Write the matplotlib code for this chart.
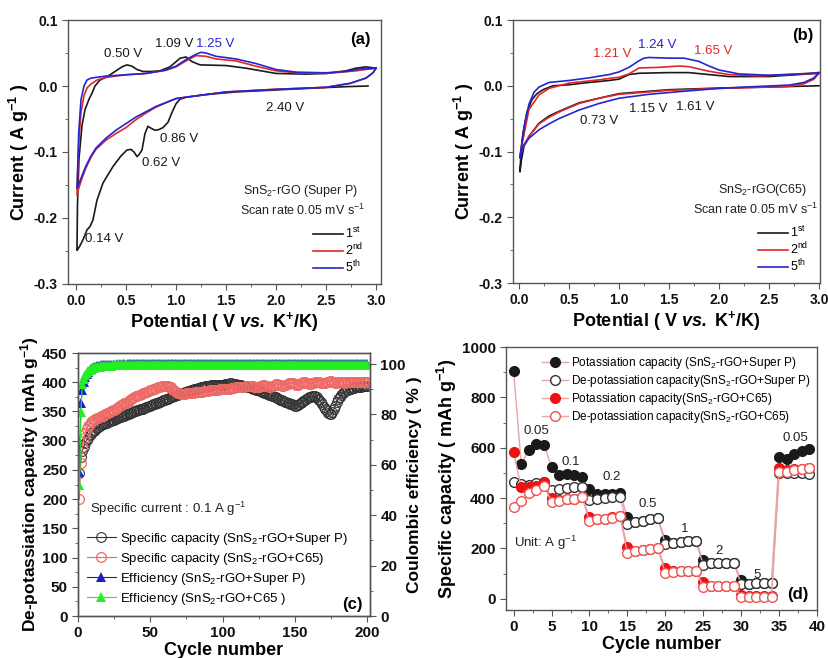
import numpy as np
import matplotlib
matplotlib.use('Agg')
import matplotlib.pyplot as plt
from matplotlib.ticker import MultipleLocator

plt.rcParams['font.family'] = ['Liberation Sans', 'DejaVu Sans']
plt.rcParams['font.weight'] = 'bold'
plt.rcParams['axes.labelweight'] = 'bold'
plt.rcParams['mathtext.fontset'] = 'custom'
plt.rcParams['mathtext.rm'] = 'Liberation Sans:normal'
plt.rcParams['mathtext.it'] = 'Liberation Sans:italic:normal'
plt.rcParams['mathtext.bf'] = 'Liberation Sans:bold'
plt.rcParams['mathtext.bfit'] = 'Liberation Sans:italic:bold'
plt.rcParams['axes.unicode_minus'] = False

# ---------------- (a) CV SnS2-rGO (Super P) ----------------
a1_cath_v = [2.92, 2.7, 2.4, 2.0, 1.6, 1.3, 1.1, 1.04, 1.0, 0.96, 0.92, 0.87, 0.83, 0.79, 0.75, 0.72, 0.69, 0.66,
             0.63, 0.61, 0.58, 0.55, 0.51, 0.45, 0.37, 0.27, 0.21, 0.17, 0.14, 0.11, 0.07, 0.04, 0.02, 0.01]
a1_cath_i = [0.000, -0.001, -0.003, -0.006, -0.009, -0.013, -0.017, -0.020, -0.027, -0.040, -0.055, -0.063, -0.066,
             -0.067, -0.064, -0.061, -0.072, -0.097, -0.104, -0.107, -0.100, -0.096, -0.097, -0.106, -0.122, -0.147,
             -0.173, -0.203, -0.213, -0.218, -0.233, -0.242, -0.247, -0.249]
a1_an_v = [0.01, 0.015, 0.03, 0.06, 0.09, 0.13, 0.16, 0.19, 0.24, 0.31, 0.41, 0.46, 0.51, 0.56, 0.61, 0.67, 0.75, 0.84,
           0.94, 1.04, 1.10, 1.16, 1.24, 1.5, 1.7, 2.0, 2.3, 2.5, 2.7, 2.8, 2.9, 3.0]
a1_an_i = [-0.249, -0.180, -0.110, -0.060, -0.036, -0.020, -0.011, 0.000, 0.009, 0.014, 0.024, 0.029, 0.032, 0.030,
           0.025, 0.022, 0.022, 0.023, 0.029, 0.042, 0.044, 0.037, 0.032, 0.031, 0.027, 0.019, 0.018, 0.019, 0.023,
           0.027, 0.029, 0.027]

a2_cath_v = [3.0, 2.97, 2.9, 2.74, 2.5, 2.0, 1.5, 1.0, 0.8, 0.7, 0.6, 0.5, 0.4, 0.3, 0.2, 0.15, 0.1, 0.06, 0.03, 0.01]
a2_cath_i = [0.027, 0.020, 0.012, 0.004, -0.002, -0.005, -0.009, -0.019, -0.032, -0.041, -0.051, -0.063, -0.072,
             -0.082, -0.096, -0.108, -0.124, -0.140, -0.154, -0.165]
a2_an_v = [0.01, 0.02, 0.03, 0.05, 0.08, 0.11, 0.15, 0.21, 0.3, 0.5, 0.7, 0.9, 1.0, 1.1, 1.2, 1.3, 1.4, 1.6, 1.8, 2.0,
           2.2, 2.5, 2.8, 3.0]
a2_an_i = [-0.165, -0.120, -0.080, -0.040, -0.015, -0.003, 0.003, 0.009, 0.013, 0.017, 0.019, 0.024, 0.029, 0.038,
           0.046, 0.045, 0.041, 0.038, 0.030, 0.023, 0.020, 0.019, 0.023, 0.027]

a5_cath_v = [3.0, 2.97, 2.9, 2.74, 2.5, 2.0, 1.5, 1.0, 0.8, 0.7, 0.6, 0.5, 0.4, 0.3, 0.2, 0.15, 0.1, 0.06, 0.03, 0.01]
a5_cath_i = [0.027, 0.020, 0.012, 0.004, -0.002, -0.005, -0.009, -0.019, -0.031, -0.039, -0.047, -0.057, -0.067,
             -0.079, -0.094, -0.106, -0.121, -0.136, -0.148, -0.155]
a5_an_v = [0.01, 0.02, 0.027, 0.05, 0.08, 0.11, 0.15, 0.2, 0.3, 0.5, 0.7, 0.9, 1.0, 1.1, 1.2, 1.25, 1.3, 1.4, 1.6, 1.8,
           2.0, 2.2, 2.5, 2.7, 2.85, 3.0]
a5_an_i = [-0.155, -0.110, -0.072, -0.021, 0.000, 0.009, 0.012, 0.013, 0.015, 0.017, 0.019, 0.024, 0.030, 0.040, 0.048,
           0.051, 0.050, 0.045, 0.041, 0.034, 0.025, 0.021, 0.020, 0.022, 0.026, 0.027]

# ---------------- (b) CV SnS2-rGO (C65) ----------------
b1_cath_v = [3.0, 2.5, 2.0, 1.5, 1.0, 0.8, 0.6, 0.4, 0.3, 0.2, 0.1, 0.05, 0.02, 0.01]
b1_cath_i = [0.000, -0.002, -0.0035, -0.006, -0.012, -0.019, -0.026, -0.039, -0.046, -0.057, -0.077, -0.092, -0.117,
             -0.131]
b1_an_v = [0.01, 0.02, 0.04, 0.08, 0.13, 0.18, 0.24, 0.34, 0.5, 0.7, 0.9, 1.0, 1.1, 1.2, 1.5, 1.7, 1.9, 2.1, 2.5, 2.8,
           3.0]
b1_an_i = [-0.131, -0.100, -0.072, -0.040, -0.021, -0.012, -0.006, 0.000, 0.0015, 0.005, 0.008, 0.010, 0.017, 0.019,
           0.020, 0.020, 0.017, 0.014, 0.014, 0.017, 0.019]

b2_cath_v = [3.0, 2.95, 2.85, 2.7, 2.0, 1.5, 1.0, 0.8, 0.6, 0.4, 0.3, 0.2, 0.1, 0.05, 0.01]
b2_cath_i = [0.019, 0.010, 0.003, -0.001, -0.004, -0.007, -0.013, -0.019, -0.027, -0.040, -0.048, -0.058, -0.077,
             -0.090, -0.105]
b2_an_v = [0.01, 0.04, 0.1, 0.2, 0.3, 0.5, 0.8, 1.0, 1.1, 1.2, 1.4, 1.6, 1.7, 1.9, 2.1, 2.4, 2.7, 3.0]
b2_an_i = [-0.105, -0.082, -0.036, -0.014, -0.004, 0.004, 0.009, 0.013, 0.018, 0.027, 0.028, 0.030, 0.029, 0.022,
           0.017, 0.015, 0.017, 0.019]

b5_cath_v = [3.0, 2.95, 2.85, 2.7, 2.4, 2.0, 1.6, 1.3, 1.0, 0.8, 0.6, 0.4, 0.3, 0.2, 0.1, 0.05, 0.02, 0.01]
b5_cath_i = [0.020, 0.012, 0.005, 0.001, -0.001, -0.004, -0.009, -0.013, -0.019, -0.027, -0.037, -0.050, -0.058,
             -0.067, -0.080, -0.090, -0.103, -0.110]
b5_an_v = [0.01, 0.03, 0.06, 0.1, 0.15, 0.2, 0.3, 0.5, 0.7, 0.9, 1.0, 1.1, 1.2, 1.25, 1.3, 1.5, 1.65, 1.8, 1.9, 2.0,
           2.2, 2.5, 2.8, 3.0]
b5_an_i = [-0.110, -0.085, -0.055, -0.028, -0.010, -0.002, 0.005, 0.008, 0.012, 0.017, 0.021, 0.028, 0.038, 0.042,
           0.043, 0.042, 0.042, 0.037, 0.030, 0.024, 0.018, 0.016, 0.018, 0.020]

# ---------------- (c) cycling at 0.1 A/g ----------------
cycles_c = np.arange(1, 201)
cap_superp = [245, 272, 283, 290, 296, 301, 305, 309, 312, 315, 317, 319, 321, 323, 325, 326, 328, 329, 330, 331,
              332, 333, 334, 335, 336, 337, 338, 339, 340, 341, 342, 343, 344, 345, 346, 347, 348, 349, 350, 351,
              352, 353, 354, 354, 355, 356, 357, 358, 359, 360, 361, 362, 363, 364, 365, 366, 367, 368, 369, 370,
              371, 372, 373, 374, 375, 376, 377, 378, 379, 380, 381, 382, 382, 383, 384, 385, 385, 386, 387, 388,
              389, 389, 390, 390, 391, 391, 392, 393, 393, 394, 394, 395, 395, 396, 396, 396, 395, 395, 396, 396,
              396, 397, 397, 397, 398, 398, 397, 397, 397, 396, 396, 395, 395, 394, 394, 393, 392, 392, 391, 390,
              389, 388, 387, 387, 386, 385, 384, 383, 382, 381, 380, 379, 378, 377, 376, 375, 374, 373, 371, 370,
              369, 368, 367, 366, 365, 364, 363, 362, 361, 360, 360, 361, 362, 364, 366, 368, 370, 372, 373, 374,
              375, 376, 377, 376, 374, 372, 370, 366, 362, 358, 354, 350, 347, 345, 346, 349, 354, 360, 366, 371,
              375, 378, 381, 383, 385, 386, 387, 388, 389, 390, 390, 391, 391, 392, 392, 392, 393, 393, 393, 393]
cap_c65 = [200, 262, 290, 305, 314, 320, 325, 329, 332, 334, 336, 337, 338, 339, 340, 342, 343, 344, 345, 347,
           348, 349, 350, 352, 353, 355, 356, 358, 359, 361, 362, 364, 365, 367, 368, 370, 371, 373, 374, 376,
           377, 378, 379, 380, 381, 382, 383, 384, 385, 386, 387, 388, 389, 390, 391, 392, 392, 393, 393, 393,
           393, 393, 392, 391, 389, 387, 385, 383, 382, 381, 380, 380, 380, 380, 381, 381, 382, 382, 382, 382,
           383, 383, 383, 384, 384, 384, 385, 385, 385, 385, 386, 386, 386, 386, 387, 387, 387, 388, 388, 388,
           388, 389, 389, 389, 389, 390, 390, 390, 391, 391, 391, 392, 392, 392, 392, 393, 393, 393, 394, 394,
           393, 392, 391, 391, 392, 393, 394, 395, 395, 394, 393, 392, 392, 393, 394, 396, 397, 397, 396, 395,
           394, 394, 395, 396, 397, 398, 399, 399, 398, 397, 396, 396, 397, 398, 399, 400, 400, 399, 398, 397,
           397, 398, 399, 400, 401, 401, 400, 399, 398, 398, 399, 400, 401, 402, 402, 401, 400, 399, 399, 400,
           401, 401, 400, 399, 399, 400, 401, 401, 400, 400, 400, 401, 401, 400, 400, 401, 401, 401, 400, 400]
eff_superp = [57, 84.5, 89.7, 93, 94.8, 96.0, 96.9, 97.6, 98.1, 98.5, 98.8, 99.0, 99.2, 99.3, 99.4, 99.5, 99.5, 99.6, 99.6, 99.7,
              99.7, 99.8, 99.7, 99.8, 99.8, 99.8, 99.9, 99.8, 99.9, 99.8, 99.9, 99.9, 99.8, 99.9, 99.9, 100.0, 99.9, 99.9, 100.0, 99.9,
              99.9, 100.0, 99.9, 99.9, 100.0, 100.0, 99.9, 100.0, 99.9, 100.0, 100.0, 99.9, 100.0, 100.0, 99.9, 100.0, 100.0, 100.1, 100.0, 99.9,
              100.0, 100.0, 100.1, 100.0, 99.9, 100.0, 100.1, 100.0, 100.0, 99.9, 100.0, 100.1, 100.0, 100.0, 100.1, 100.0, 99.9, 100.0, 100.0, 100.1,
              100.0, 100.0, 99.9, 100.0, 100.1, 100.0, 100.0, 100.1, 100.0, 99.9, 100.0, 100.0, 100.1, 100.0, 100.0, 99.9, 100.0, 100.1, 100.0, 100.0,
              100.1, 100.0, 100.0, 99.9, 100.0, 100.1, 100.0, 100.0, 100.1, 100.0, 100.0, 99.9, 100.0, 100.1, 100.0, 100.0, 100.1, 100.0, 99.9, 100.0,
              100.0, 100.1, 100.0, 100.0, 99.9, 100.0, 100.1, 100.0, 100.0, 100.1, 100.0, 100.0, 99.9, 100.0, 100.1, 100.2, 100.1, 100.0, 100.0, 100.1,
              100.0, 99.9, 100.0, 100.1, 100.2, 100.1, 100.0, 100.0, 100.1, 100.0, 100.0, 99.9, 100.0, 100.1, 100.2, 100.1, 100.0, 100.0, 100.1, 100.2,
              100.1, 100.0, 100.0, 100.1, 100.2, 100.1, 100.0, 99.9, 100.0, 100.1, 100.2, 100.2, 100.1, 100.0, 100.0, 100.1, 100.2, 100.1, 100.0, 100.0,
              100.1, 100.2, 100.1, 100.0, 100.0, 100.1, 100.2, 100.1, 100.0, 100.0, 100.1, 100.0, 100.0, 100.1, 100.2, 100.1, 100.0, 100.0, 100.1, 100.0]
eff_c65 = [52, 81, 92, 94, 95.5, 96.4, 97.1, 97.6, 98.0, 98.3, 98.5, 98.7, 98.8, 98.9, 99.0, 99.1, 99.2, 99.2, 99.3, 99.3,
           99.4, 99.4, 99.4, 99.5, 99.5, 99.5, 99.5, 99.6, 99.5, 99.6, 99.6, 99.5, 99.6, 99.6, 99.6, 99.7, 99.6, 99.6, 99.7, 99.6,
           99.7, 99.6, 99.7, 99.7, 99.6, 99.7, 99.8, 99.7, 99.7, 99.6, 99.7, 99.7, 99.8, 99.7, 99.6, 99.7, 99.7, 99.8, 99.7, 99.7,
           99.6, 99.7, 99.8, 99.7, 99.7, 99.6, 99.7, 99.8, 99.7, 99.7, 99.8, 99.7, 99.6, 99.7, 99.7, 99.8, 99.7, 99.7, 99.6, 99.7,
           99.8, 99.7, 99.7, 99.6, 99.7, 99.8, 99.7, 99.7, 99.8, 99.7, 99.6, 99.7, 99.7, 99.8, 99.7, 99.7, 99.6, 99.7, 99.8, 99.7,
           99.7, 99.8, 99.7, 99.6, 99.7, 99.7, 99.8, 99.7, 99.7, 99.6, 99.7, 99.8, 99.7, 99.7, 99.8, 99.7, 99.6, 99.7, 99.7, 99.8,
           99.7, 99.7, 99.6, 99.7, 99.8, 99.7, 99.7, 99.8, 99.7, 99.6, 99.7, 99.7, 99.8, 99.7, 99.7, 99.6, 99.7, 99.8, 99.7, 99.7,
           99.8, 99.7, 99.6, 99.7, 99.7, 99.8, 99.7, 99.7, 99.6, 99.7, 99.8, 99.7, 99.7, 99.8, 99.7, 99.6, 99.7, 99.7, 99.8, 99.7,
           99.7, 99.6, 99.7, 99.8, 99.7, 99.7, 99.8, 99.7, 99.6, 99.7, 99.7, 99.8, 99.7, 99.7, 99.6, 99.7, 99.8, 99.7, 99.7, 99.8,
           99.7, 99.6, 99.7, 99.7, 99.8, 99.7, 99.7, 99.6, 99.7, 99.8, 99.7, 99.7, 99.8, 99.7, 99.6, 99.7, 99.7, 99.8, 99.7, 99.7]

# ---------------- (d) rate capability ----------------
cycles_d = np.arange(0, 40)
pot_superp = [905, 535, 590, 615, 610, 525, 493, 495, 492, 485, 435, 415, 415, 418, 420, 325, 305, 310, 315, 320,
              235, 222, 225, 228, 230, 152, 140, 142, 142, 143, 75, 60, 62, 63, 63, 562, 555, 575, 585, 595]
depot_superp = [465, 455, 450, 460, 465, 432, 435, 438, 442, 445, 392, 398, 400, 403, 405, 295, 305, 310, 315, 320,
                218, 222, 225, 228, 230, 135, 140, 142, 142, 143, 58, 60, 62, 63, 63, 500, 500, 500, 498, 495]
pot_c65 = [582, 443, 445, 448, 462, 402, 392, 398, 398, 405, 325, 315, 318, 325, 330, 205, 190, 195, 198, 200,
           122, 110, 110, 110, 112, 65, 50, 50, 50, 50, 15, 10, 10, 10, 10, 518, 512, 515, 515, 520]
depot_c65 = [365, 390, 420, 432, 448, 385, 390, 395, 395, 405, 308, 315, 318, 322, 328, 182, 188, 193, 198, 200,
             102, 108, 110, 112, 112, 48, 50, 50, 50, 50, 8, 8, 8, 8, 8, 505, 505, 510, 515, 518]
rate_labels = ['0.05', '0.1', '0.2', '0.5', '1', '2', '5', '0.05']
rate_label_x = [3.0, 7.5, 12.9, 17.7, 22.6, 27.1, 32.1, 37.2]
rate_label_y = [665, 545, 482, 375, 275, 191, 96, 637]

black = '#1a1a1a'
red = '#e02828'
blue = '#2525d0'
spine_c = '#555555'

fig = plt.figure(figsize=(8.29, 6.58), dpi=100)
ax1 = fig.add_axes([0.0820, 0.5684, 0.3776, 0.4012])
ax2 = fig.add_axes([0.6188, 0.5699, 0.3703, 0.3997])
ax3 = fig.add_axes([0.0941, 0.0638, 0.3522, 0.3997])
ax4 = fig.add_axes([0.6104, 0.0729, 0.3752, 0.3997])

def style(ax, fs=10):
    for s in ax.spines.values():
        s.set_color(spine_c)
        s.set_linewidth(1.0)
    ax.tick_params(which='both', direction='out', colors=spine_c, labelcolor='#111111', labelsize=fs)
    ax.tick_params(which='major', length=4)
    ax.tick_params(which='minor', length=2)

def bold_ticks(ax):
    for t in ax.get_xticklabels() + ax.get_yticklabels():
        t.set_fontweight('bold')

# ---- panel a
ax1.plot(a1_cath_v + a1_an_v, a1_cath_i + a1_an_i, color=black, lw=1.2, label='1$^{\\rm st}$')
ax1.plot(a2_cath_v + a2_an_v, a2_cath_i + a2_an_i, color=red, lw=1.2, label='2$^{\\rm nd}$')
ax1.plot(a5_cath_v + a5_an_v, a5_cath_i + a5_an_i, color=blue, lw=1.2, label='5$^{\\rm th}$')
ax1.set_xlim(-0.08, 3.05)
ax1.set_ylim(-0.3, 0.1)
ax1.xaxis.set_major_locator(MultipleLocator(0.5))
ax1.xaxis.set_minor_locator(MultipleLocator(0.25))
ax1.yaxis.set_major_locator(MultipleLocator(0.1))
ax1.yaxis.set_minor_locator(MultipleLocator(0.05))
ax1.yaxis.set_major_formatter(matplotlib.ticker.FormatStrFormatter('%.1f'))
style(ax1)
ax1.set_xlabel(r'Potential ( V $\mathbfit{vs.}$ K$^{\mathbf{+}}$/K)', fontsize=13, fontweight='bold', labelpad=1)
ax1.set_ylabel(r'Current ( A g$^{\mathbf{-1}}$ )', fontsize=13, fontweight='bold', labelpad=2)
for t, x, y, c in [('0.50 V', 0.467, 0.048, black), ('1.09 V', 0.98, 0.063, black), ('1.25 V', 1.39, 0.063, blue),
                   ('2.40 V', 2.09, -0.034, black), ('0.86 V', 1.03, -0.080, black), ('0.62 V', 0.85, -0.117, black),
                   ('0.14 V', 0.28, -0.232, black)]:
    ax1.text(x, y, t, color=c, fontsize=9.5, fontweight='normal', ha='center', va='center')
ax1.text(2.84, 0.070, '(a)', fontsize=12, fontweight='bold', ha='center', va='center')
ax1.text(0.925, 0.352, 'SnS$_2$-rGO (Super P)', transform=ax1.transAxes, fontsize=9, fontweight='normal',
         ha='right', va='center', color='#222222')
ax1.text(0.95, 0.28, 'Scan rate 0.05 mV s$^{-1}$', transform=ax1.transAxes, fontsize=9, fontweight='normal',
         ha='right', va='center', color='#222222')
ax1.legend(loc='lower right', bbox_to_anchor=(0.98, -0.01), frameon=False, handlelength=2.4, handletextpad=0.2,
           labelspacing=0.05, prop={'size': 9, 'weight': 'normal'})

# ---- panel b
ax2.plot(b1_cath_v + b1_an_v, b1_cath_i + b1_an_i, color=black, lw=1.2, label='1$^{\\rm st}$')
ax2.plot(b2_cath_v + b2_an_v, b2_cath_i + b2_an_i, color=red, lw=1.2, label='2$^{\\rm nd}$')
ax2.plot(b5_cath_v + b5_an_v, b5_cath_i + b5_an_i, color=blue, lw=1.2, label='5$^{\\rm th}$')
ax2.set_xlim(-0.06, 3.01)
ax2.set_ylim(-0.3, 0.1)
ax2.xaxis.set_major_locator(MultipleLocator(0.5))
ax2.xaxis.set_minor_locator(MultipleLocator(0.25))
ax2.yaxis.set_major_locator(MultipleLocator(0.1))
ax2.yaxis.set_minor_locator(MultipleLocator(0.05))
ax2.yaxis.set_major_formatter(matplotlib.ticker.FormatStrFormatter('%.1f'))
style(ax2)
ax2.set_xlabel(r'Potential ( V $\mathbfit{vs.}$ K$^{\mathbf{+}}$/K)', fontsize=13, fontweight='bold', labelpad=1)
ax2.set_ylabel(r'Current ( A g$^{\mathbf{-1}}$ )', fontsize=13, fontweight='bold', labelpad=2)
for t, x, y, c in [('1.21 V', 0.93, 0.048, red), ('1.24 V', 1.38, 0.062, blue), ('1.65 V', 1.94, 0.053, red),
                   ('0.73 V', 0.80, -0.053, black), ('1.15 V', 1.29, -0.036, black), ('1.61 V', 1.76, -0.032, black)]:
    ax2.text(x, y, t, color=c, fontsize=9.5, fontweight='normal', ha='center', va='center')
ax2.text(2.84, 0.077, '(b)', fontsize=12, fontweight='bold', ha='center', va='center')
ax2.text(0.958, 0.354, 'SnS$_2$-rGO(C65)', transform=ax2.transAxes, fontsize=9, fontweight='normal',
         ha='right', va='center', color='#222222')
ax2.text(0.995, 0.278, 'Scan rate 0.05 mV s$^{-1}$', transform=ax2.transAxes, fontsize=9, fontweight='normal',
         ha='right', va='center', color='#222222')
ax2.legend(loc='lower right', bbox_to_anchor=(1.0, -0.01), frameon=False, handlelength=2.4, handletextpad=0.2,
           labelspacing=0.05, prop={'size': 9, 'weight': 'normal'})

# ---- panel c
ax3b = ax3.twinx()
l1, = ax3.plot(cycles_c, cap_superp, color='#333333', lw=0.8, marker='o', ms=7, mfc='none', mew=0.8,
               label='Specific capacity (SnS$_2$-rGO+Super P)')
l2, = ax3.plot(cycles_c, cap_c65, color='#ee6a66', lw=0.8, marker='o', ms=7, mfc='none', mew=0.9,
               label='Specific capacity (SnS$_2$-rGO+C65)')
l3, = ax3b.plot(cycles_c, eff_superp, color='#1e1ec8', lw=0.8, marker='^', ms=7, mew=0,
                label='Efficiency (SnS$_2$-rGO+Super P)')
l4, = ax3b.plot(cycles_c, eff_c65, color='#22ee22', lw=0.8, marker='^', ms=7, mew=0,
                label='Efficiency (SnS$_2$-rGO+C65 )')
ax3.set_xlim(0, 202)
ax3.set_ylim(0, 450)
ax3b.set_ylim(0, 104.4)
ax3.xaxis.set_major_locator(MultipleLocator(50))
ax3.xaxis.set_minor_locator(MultipleLocator(25))
ax3.yaxis.set_major_locator(MultipleLocator(50))
ax3.yaxis.set_minor_locator(MultipleLocator(25))
ax3b.yaxis.set_major_locator(MultipleLocator(20))
ax3b.yaxis.set_minor_locator(MultipleLocator(10))
style(ax3, 11)
style(ax3b, 11)
ax3.set_xlabel('Cycle number', fontsize=13, fontweight='bold', labelpad=1)
ax3.set_ylabel(r'De-potassiation capacity ( mAh g$^{\mathbf{-1}}$)', fontsize=12.5, fontweight='bold', labelpad=1)
ax3b.set_ylabel('Coulombic efficiency ( % )', fontsize=12.5, fontweight='bold', labelpad=1)
ax3.text(8.3, 183, 'Specific current : 0.1 A g$^{-1}$', fontsize=9.5, fontweight='normal', va='center',
         color='#222222')
ax3.text(190, 19, '(c)', fontsize=12, fontweight='bold', ha='center', va='center')
ax3.legend(handles=[l1, l2, l3, l4], loc='lower left', bbox_to_anchor=(-0.01, -0.01), frameon=False,
           handlelength=2.2, handletextpad=0.3, labelspacing=0.3, prop={'size': 9.5, 'weight': 'normal'})

# ---- panel d
line_c = '#e8a4a4'
ax4.plot(cycles_d, pot_superp, color=line_c, lw=1, marker='o', ms=7, mfc=black, mec=black,
         label='Potassiation capacity (SnS$_2$-rGO+Super P)')
ax4.plot(cycles_d, depot_superp, color=line_c, lw=1, marker='o', ms=7, mfc='white', mec='#333333', mew=1,
         label='De-potassiation capacity(SnS$_2$-rGO+Super P)')
ax4.plot(cycles_d, pot_c65, color=line_c, lw=1, marker='o', ms=7, mfc='#ee1111', mec='#ee1111',
         label='Potassiation capacity(SnS$_2$-rGO+C65)')
ax4.plot(cycles_d, depot_c65, color=line_c, lw=1, marker='o', ms=7, mfc='white', mec='#ee5555', mew=1,
         label='De-potassiation capacity(SnS$_2$-rGO+C65)')
ax4.set_xlim(-1, 40)
ax4.set_ylim(-45, 1000)
ax4.xaxis.set_major_locator(MultipleLocator(5))
ax4.xaxis.set_minor_locator(MultipleLocator(2.5))
ax4.yaxis.set_major_locator(MultipleLocator(200))
ax4.yaxis.set_minor_locator(MultipleLocator(100))
style(ax4, 11)
ax4.set_xlabel('Cycle number', fontsize=13, fontweight='bold', labelpad=1)
ax4.set_ylabel(r'Specific capacity ( mAh g$^{\mathbf{-1}}$)', fontsize=13, fontweight='bold', labelpad=2)
for t, x, y in zip(rate_labels, rate_label_x, rate_label_y):
    ax4.text(x, y, t, fontsize=9.5, fontweight='normal', ha='center', va='center', color='#222222')
ax4.text(0.1, 223, 'Unit: A g$^{-1}$', fontsize=9.5, fontweight='normal', va='center', color='#222222')
ax4.text(37.4, 16, '(d)', fontsize=12, fontweight='bold', ha='center', va='center')
ax4.legend(loc='upper left', bbox_to_anchor=(0.08, 1.01), frameon=False, handlelength=2.2, handletextpad=0.3,
           labelspacing=0.18, prop={'size': 8.5, 'weight': 'normal'})

for ax in [ax1, ax2, ax3, ax3b, ax4]:
    bold_ticks(ax)

fig.savefig('out.png', dpi=100)
